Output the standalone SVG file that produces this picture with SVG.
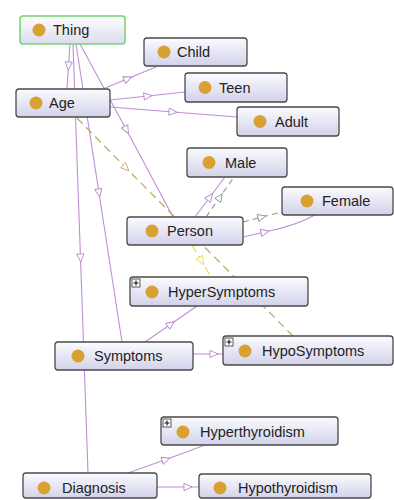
<svg xmlns="http://www.w3.org/2000/svg" width="394" height="500" viewBox="0 0 394 500">
<defs>
<linearGradient id="g" x1="0" y1="0" x2="0" y2="1">
<stop offset="0" stop-color="#fbfbff"/>
<stop offset="1" stop-color="#d2d2ea"/>
</linearGradient>
<linearGradient id="gt" x1="0" y1="0" x2="0" y2="1">
<stop offset="0" stop-color="#fdfdff"/>
<stop offset="1" stop-color="#dcdcee"/>
</linearGradient>
<marker id="tp" viewBox="0 0 10 10" refX="5" refY="5" markerWidth="10" markerHeight="9" markerUnits="userSpaceOnUse" orient="auto">
<path d="M0.5,1 L9.5,5 L0.5,9 Z" fill="#fff" stroke="#b983cf" stroke-width="1"/>
</marker>
<marker id="tt" viewBox="0 0 10 10" refX="5" refY="5" markerWidth="10" markerHeight="9" markerUnits="userSpaceOnUse" orient="auto">
<path d="M0.5,1 L9.5,5 L0.5,9 Z" fill="#fff" stroke="#c9a56c" stroke-width="1"/>
</marker>
<marker id="ty" viewBox="0 0 10 10" refX="5" refY="5" markerWidth="10" markerHeight="9" markerUnits="userSpaceOnUse" orient="auto">
<path d="M0.5,1 L9.5,5 L0.5,9 Z" fill="#fff" stroke="#e6dc5a" stroke-width="1"/>
</marker>
<marker id="tg" viewBox="0 0 10 10" refX="5" refY="5" markerWidth="10" markerHeight="9" markerUnits="userSpaceOnUse" orient="auto">
<path d="M0.5,1 L9.5,5 L0.5,9 Z" fill="#fff" stroke="#8e9a8c" stroke-width="1"/>
</marker>
</defs>
<style>
.n{fill:url(#g);stroke:#4a4a4a;stroke-width:1.3}
.thing{fill:url(#gt);stroke:#72d472;stroke-width:1.5}
.c{fill:#d9a032}
.t{font-family:"Liberation Sans",Arial,sans-serif;font-size:14.5px;fill:#222}
.pb{fill:#fff;stroke:#333;stroke-width:0.8}
.pl{stroke:#111;stroke-width:1.1}
.e{fill:none;stroke:#bf8fd6;stroke-width:1.1;marker-mid:url(#tp)}
.dt{fill:none;stroke:#c9a56c;stroke-width:1.3;stroke-dasharray:8 5;marker-mid:url(#tt)}
.dy{fill:none;stroke:#e6dc5a;stroke-width:1.3;stroke-dasharray:8 5;marker-mid:url(#ty)}
.dg{fill:none;stroke:#8e9a8c;stroke-width:1.1;stroke-dasharray:6 4;marker-mid:url(#tg)}
</style>
<rect width="394" height="500" fill="#fff"/>
<g id="connectors">
<path class="e" d="M70,44 L68.5,66 L67,89"/>
<path class="e" d="M73,44 L80.5,258 L88,473"/>
<path class="e" d="M76,44 L99,193 L122,342"/>
<path class="e" d="M80,44 L126.5,130 L173,217"/>
<path class="e" d="M103,89 L128,78.5 L156,67"/>
<path class="e" d="M110,100 L148,96 L185,92"/>
<path class="e" d="M110,107 L173,112 L237,117"/>
<path class="dt" d="M77,118 L126,168 L293,336"/>
<path class="e" d="M195,217 L210,197 L225,177"/>
<path class="dg" d="M206,217 L220,197 L234,177"/>
<path class="dg" d="M243,222 L262,217 L282,212"/>
<path class="e" d="M243,237 L265,232 Q295,226 315,215"/>
<path class="dy" d="M192,245 L201.5,261 L211,277"/>
<path class="e" d="M145,342 L171,324 L197,306"/>
<path class="e" d="M193,354 L214,354 L223,354"/>
<path class="e" d="M128,473 L166,459.5 L205,445"/>
<path class="e" d="M157,487 L188,487 L199,487"/>
</g>
<g id="Thing"><rect class="thing" x="20" y="16" width="105" height="28" rx="3"/><circle class="c" cx="39" cy="30" r="6.5"/><text class="t" x="53" y="35">Thing</text></g>
<g id="Age"><rect class="n" x="16" y="89" width="94" height="28" rx="3"/><circle class="c" cx="36" cy="103" r="6.5"/><text class="t" x="49" y="108">Age</text></g>
<g id="Child"><rect class="n" x="144" y="38" width="103" height="28" rx="3"/><circle class="c" cx="164" cy="52" r="6.5"/><text class="t" x="177" y="57">Child</text></g>
<g id="Teen"><rect class="n" x="185" y="73" width="102" height="29" rx="3"/><circle class="c" cx="205" cy="87.5" r="6.5"/><text class="t" x="219" y="92.5">Teen</text></g>
<g id="Adult"><rect class="n" x="237" y="107" width="102" height="29" rx="3"/><circle class="c" cx="260" cy="121.5" r="6.5"/><text class="t" x="275" y="126.5">Adult</text></g>
<g id="Male"><rect class="n" x="187" y="148" width="100" height="29" rx="3"/><circle class="c" cx="209" cy="162.5" r="6.5"/><text class="t" x="225" y="167.5">Male</text></g>
<g id="Female"><rect class="n" x="282" y="187" width="111" height="28" rx="3"/><circle class="c" cx="307" cy="201" r="6.5"/><text class="t" x="322" y="206">Female</text></g>
<g id="Person"><rect class="n" x="127" y="217" width="116" height="28" rx="3"/><circle class="c" cx="152" cy="231" r="6.5"/><text class="t" x="167" y="236">Person</text></g>
<g id="HyperSymptoms"><rect class="n" x="130" y="277" width="178" height="29" rx="3"/><rect class="pb" x="132" y="279" width="8" height="8"/><path class="pl" d="M133.5,283 H138.5 M136,280.5 V285.5"/><circle class="c" cx="152" cy="292" r="6.5"/><text class="t" x="168" y="297">HyperSymptoms</text></g>
<g id="Symptoms"><rect class="n" x="55" y="342" width="138" height="28" rx="3"/><circle class="c" cx="78" cy="356" r="6.5"/><text class="t" x="94" y="361">Symptoms</text></g>
<g id="HypoSymptoms"><rect class="n" x="223" y="336" width="170" height="29" rx="3"/><rect class="pb" x="225" y="338" width="8" height="8"/><path class="pl" d="M226.5,342 H231.5 M229,339.5 V344.5"/><circle class="c" cx="245" cy="351" r="6.5"/><text class="t" x="262" y="356">HypoSymptoms</text></g>
<g id="Hyperthyroidism"><rect class="n" x="161" y="417" width="177" height="28" rx="3"/><rect class="pb" x="163" y="419" width="8" height="8"/><path class="pl" d="M164.5,423 H169.5 M167,420.5 V425.5"/><circle class="c" cx="183" cy="432" r="6.5"/><text class="t" x="200" y="437">Hyperthyroidism</text></g>
<g id="Diagnosis"><rect class="n" x="23" y="473" width="134" height="25" rx="3"/><circle class="c" cx="44" cy="488" r="6.5"/><text class="t" x="62" y="493">Diagnosis</text></g>
<g id="Hypothyroidism"><rect class="n" x="199" y="474" width="172" height="24" rx="3"/><circle class="c" cx="220" cy="488" r="6.5"/><text class="t" x="238" y="493">Hypothyroidism</text></g>
</svg>
